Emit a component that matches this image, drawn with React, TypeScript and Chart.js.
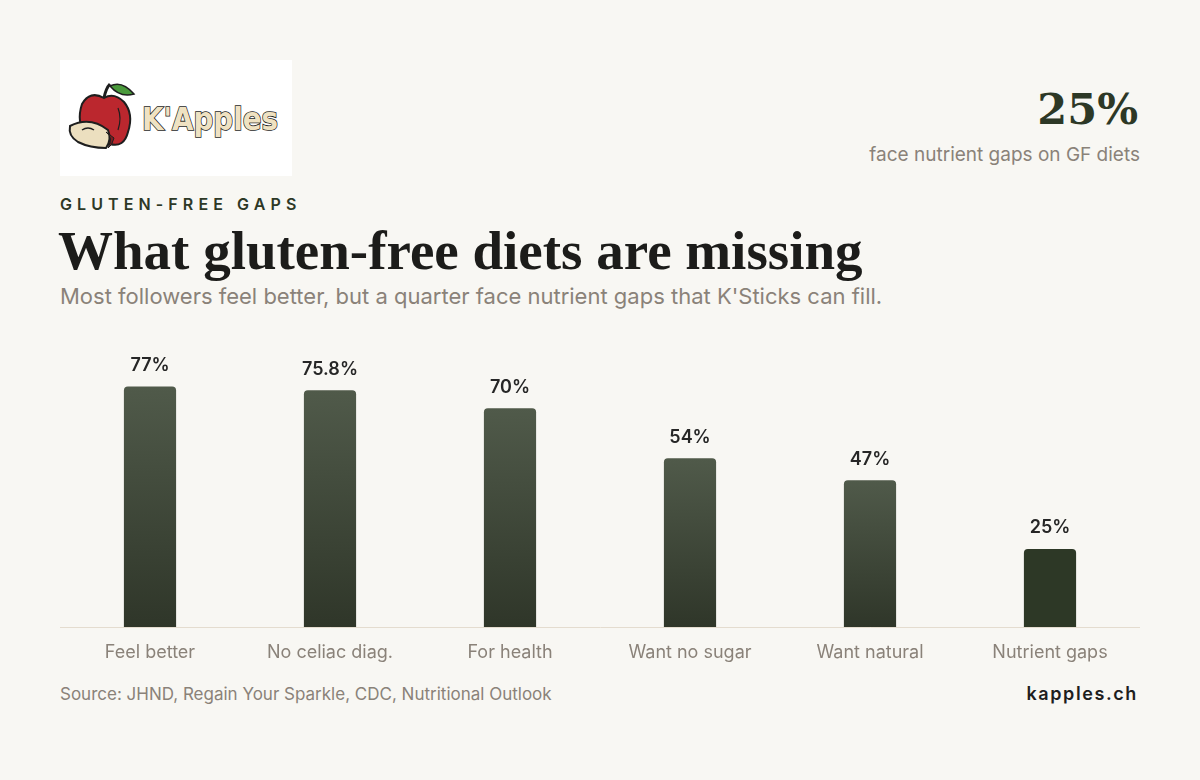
import React, { useEffect, useRef } from "react";
import { Chart, registerables } from "chart.js";

Chart.register(...registerables);

const categories = ["Feel better", "No celiac diag.", "For health", "Want no sugar", "Want natural", "Nutrient gaps"];
const values = [77, 75.8, 70, 54, 47, 25];
const valueLabels = ["77%", "75.8%", "70%", "54%", "47%", "25%"];
const highlightIndex = 5;

const BG = "#f8f7f3";
const GREY = "#8a8279";
const DARK_GREEN = "#2d3826";

const labelPlugin = {
  id: "valueLabels",
  afterDatasetsDraw(chart: any) {
    const { ctx } = chart;
    const meta = chart.getDatasetMeta(0);
    ctx.save();
    ctx.font = "600 18px Inter";
    ctx.fillStyle = "#262626";
    ctx.textAlign = "center";
    ctx.textBaseline = "bottom";
    meta.data.forEach((bar: any, i: number) => {
      ctx.fillText(valueLabels[i], bar.x, bar.y - 12);
    });
    ctx.restore();
  },
};

function Logo() {
  return (
    <svg width="232" height="116" viewBox="0 0 232 116" style={{ display: "block" }}>
      <rect x="0" y="0" width="232" height="116" fill="#ffffff" />
      <path d="M44 38 Q46 28 50 24" stroke="#1e1e1e" strokeWidth="3" fill="none" />
      <path d="M50 26 Q62 20 74 34 Q60 38 50 26 Z" fill="#4a9a3c" stroke="#1e1e1e" strokeWidth="1.5" />
      <path d="M44 38 Q30 30 22 44 Q16 62 26 76 Q36 90 50 84 Q64 88 68 72 Q74 54 64 42 Q54 32 44 38 Z" fill="#bb272e" stroke="#1e1e1e" strokeWidth="2" />
      <path d="M58 48 Q62 58 58 70" stroke="#1e1e1e" strokeWidth="1.2" fill="none" />
      <path d="M10 66 Q30 56 48 70 Q52 80 46 88 Q30 88 18 82 Q8 76 10 66 Z" fill="#ecdfbf" stroke="#1e1e1e" strokeWidth="2" />
      <path d="M46 72 Q54 78 48 88 Q52 86 54 78 Z" fill="#7a1d20" stroke="#1e1e1e" strokeWidth="1" />
      <path d="M22 70 Q28 66 34 70" stroke="#1e1e1e" strokeWidth="1.5" fill="none" />
      <text x="82" y="70" textLength="136" lengthAdjust="spacingAndGlyphs" fontFamily="'DejaVu Sans', sans-serif" fontWeight="700" fontSize="32" fill="#efe2c2" stroke="#1e1e1e" strokeWidth="1.6" paintOrder="stroke">K'Apples</text>
    </svg>
  );
}

export default function App() {
  const canvasRef = useRef<HTMLCanvasElement | null>(null);

  useEffect(() => {
    document.body.style.margin = "0";
    document.body.style.background = BG;
    if (!canvasRef.current) return;
    const chart = new Chart(canvasRef.current, {
      type: "bar",
      data: {
        labels: categories,
        datasets: [
          {
            data: values,
            backgroundColor: (ctx: any) => {
              const chart = ctx.chart;
              const { chartArea, scales } = chart;
              if (!chartArea) return DARK_GREEN;
              if (ctx.dataIndex === highlightIndex) return DARK_GREEN;
              const v = values[ctx.dataIndex];
              const top = scales.y.getPixelForValue(v);
              const bottom = scales.y.getPixelForValue(0);
              const g = chart.ctx.createLinearGradient(0, top, 0, bottom);
              g.addColorStop(0, "#505a4a");
              g.addColorStop(1, "#2f3629");
              return g;
            },
            borderRadius: { topLeft: 4, topRight: 4, bottomLeft: 0, bottomRight: 0 },
            borderSkipped: "bottom",
            barPercentage: 0.29,
            categoryPercentage: 1,
          },
        ],
      },
      options: {
        animation: false,
        responsive: false,
        maintainAspectRatio: false,
        layout: { padding: { top: 12, left: 0, right: 0, bottom: 0 } },
        plugins: { legend: { display: false }, tooltip: { enabled: false } },
        scales: {
          x: {
            grid: { display: false, drawTicks: false },
            border: { display: true, color: "#e4dccf", width: 1 },
            ticks: { color: GREY, font: { family: "Inter", size: 18 }, padding: 15 },
            afterFit: (scale: any) => {
              scale.height = 40;
            },
          },
          y: {
            display: false,
            min: 0,
            max: 88,
          },
        },
      },
      plugins: [labelPlugin],
    });
    return () => chart.destroy();
  }, []);

  return (
    <div style={{ position: "fixed", left: 0, top: 0, width: 1200, height: 780, background: BG, fontFamily: "Inter, sans-serif" }}>
      <div style={{ position: "absolute", left: 60, top: 60 }}>
        <Logo />
      </div>
      <div style={{ position: "absolute", right: 62, top: 79, fontFamily: "'DejaVu Serif', serif", fontWeight: 700, fontSize: 43, color: DARK_GREEN, lineHeight: "60px" }}>25%</div>
      <div style={{ position: "absolute", right: 60, top: 142, fontSize: 19, color: GREY, lineHeight: "26px", whiteSpace: "nowrap" }}>face nutrient gaps on GF diets</div>
      <div style={{ position: "absolute", left: 60, top: 193, fontSize: 16, fontWeight: 600, letterSpacing: 5.1, color: DARK_GREEN, lineHeight: "22px", whiteSpace: "nowrap" }}>GLUTEN-FREE GAPS</div>
      <div style={{ position: "absolute", left: 58, top: 218, fontFamily: "'Liberation Serif', serif", fontWeight: 700, fontSize: 55, color: "#1c1c1a", lineHeight: "66px", whiteSpace: "nowrap" }}>What gluten-free diets are missing</div>
      <div style={{ position: "absolute", left: 60, top: 282, fontSize: 22, color: GREY, lineHeight: "28px", whiteSpace: "nowrap" }}>Most followers feel better, but a quarter face nutrient gaps that K'Sticks can fill.</div>
      <canvas ref={canvasRef} width={1080} height={327} style={{ position: "absolute", left: 60, top: 340, width: 1080, height: 327 }} />
      <div style={{ position: "absolute", left: 60, top: 682, fontSize: 17, color: GREY, lineHeight: "24px", whiteSpace: "nowrap" }}>Source: JHND, Regain Your Sparkle, CDC, Nutritional Outlook</div>
      <div style={{ position: "absolute", right: 62, top: 682, fontSize: 18, fontWeight: 600, letterSpacing: 1.6, color: "#1e1e1e", lineHeight: "24px" }}>kapples.ch</div>
    </div>
  );
}
